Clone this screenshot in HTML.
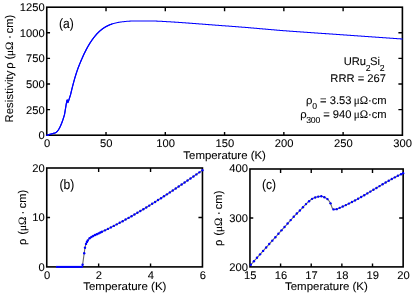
<!DOCTYPE html>
<html><head><meta charset="utf-8"><title>URu2Si2 resistivity</title>
<style>
html,body{margin:0;padding:0;background:#fff;}
svg{display:block;font-family:"Liberation Sans",sans-serif;fill:#000;will-change:transform;}
svg text{text-rendering:geometricPrecision;stroke:#000;stroke-width:0.08px;}
</style></head><body>
<svg width="416" height="295" viewBox="0 0 416 295">
<rect width="416" height="295" fill="#fff"/>
<rect x="46.75" y="7.2" width="355.65" height="128.00" fill="none" stroke="#000" stroke-width="1.6"/>
<text transform="translate(47.05 146.80)" text-anchor="middle" font-size="11.2">0</text>
<path d="M106.02 135.2 v-3.3 M106.02 7.2 v4.0" stroke="#000" stroke-width="1.4"/>
<text transform="translate(106.32 146.80)" text-anchor="middle" font-size="11.2">50</text>
<path d="M165.30 135.2 v-3.3 M165.30 7.2 v4.0" stroke="#000" stroke-width="1.4"/>
<text transform="translate(165.60 146.80)" text-anchor="middle" font-size="11.2">100</text>
<path d="M224.57 135.2 v-3.3 M224.57 7.2 v4.0" stroke="#000" stroke-width="1.4"/>
<text transform="translate(224.88 146.80)" text-anchor="middle" font-size="11.2">150</text>
<path d="M283.85 135.2 v-3.3 M283.85 7.2 v4.0" stroke="#000" stroke-width="1.4"/>
<text transform="translate(284.15 146.80)" text-anchor="middle" font-size="11.2">200</text>
<path d="M343.12 135.2 v-3.3 M343.12 7.2 v4.0" stroke="#000" stroke-width="1.4"/>
<text transform="translate(343.43 146.80)" text-anchor="middle" font-size="11.2">250</text>
<text transform="translate(402.70 146.80)" text-anchor="middle" font-size="11.2">300</text>
<text transform="translate(44.75 139.20)" text-anchor="end" font-size="11.2">0</text>
<path d="M46.75 109.60 h3.3 M402.4 109.60 h-4.0" stroke="#000" stroke-width="1.4"/>
<text transform="translate(44.75 113.60)" text-anchor="end" font-size="11.2">250</text>
<path d="M46.75 84.00 h3.3 M402.4 84.00 h-4.0" stroke="#000" stroke-width="1.4"/>
<text transform="translate(44.75 88.00)" text-anchor="end" font-size="11.2">500</text>
<path d="M46.75 58.40 h3.3 M402.4 58.40 h-4.0" stroke="#000" stroke-width="1.4"/>
<text transform="translate(44.75 62.40)" text-anchor="end" font-size="11.2">750</text>
<path d="M46.75 32.80 h3.3 M402.4 32.80 h-4.0" stroke="#000" stroke-width="1.4"/>
<text transform="translate(44.75 36.80)" text-anchor="end" font-size="11.2">1000</text>
<text transform="translate(44.75 11.20)" text-anchor="end" font-size="11.2">1250</text>
<rect x="46.75" y="168.0" width="155.70" height="98.90" fill="none" stroke="#000" stroke-width="1.6"/>
<text transform="translate(47.05 278.50)" text-anchor="middle" font-size="11.2">0</text>
<path d="M98.65 266.9 v-3.3 M98.65 168.0 v4.0" stroke="#000" stroke-width="1.4"/>
<text transform="translate(98.95 278.50)" text-anchor="middle" font-size="11.2">2</text>
<path d="M150.55 266.9 v-3.3 M150.55 168.0 v4.0" stroke="#000" stroke-width="1.4"/>
<text transform="translate(150.85 278.50)" text-anchor="middle" font-size="11.2">4</text>
<text transform="translate(202.75 278.50)" text-anchor="middle" font-size="11.2">6</text>
<text transform="translate(44.75 270.90)" text-anchor="end" font-size="11.2">0</text>
<path d="M46.75 217.45 h3.3 M202.45 217.45 h-4.0" stroke="#000" stroke-width="1.4"/>
<text transform="translate(44.75 221.45)" text-anchor="end" font-size="11.2">10</text>
<text transform="translate(44.75 172.00)" text-anchor="end" font-size="11.2">20</text>
<rect x="249.95" y="169.0" width="153.20" height="97.90" fill="none" stroke="#000" stroke-width="1.6"/>
<text transform="translate(250.25 278.50)" text-anchor="middle" font-size="11.2">15</text>
<path d="M280.59 266.9 v-3.3 M280.59 169.0 v4.0" stroke="#000" stroke-width="1.4"/>
<text transform="translate(280.89 278.50)" text-anchor="middle" font-size="11.2">16</text>
<path d="M311.23 266.9 v-3.3 M311.23 169.0 v4.0" stroke="#000" stroke-width="1.4"/>
<text transform="translate(311.53 278.50)" text-anchor="middle" font-size="11.2">17</text>
<path d="M341.87 266.9 v-3.3 M341.87 169.0 v4.0" stroke="#000" stroke-width="1.4"/>
<text transform="translate(342.17 278.50)" text-anchor="middle" font-size="11.2">18</text>
<path d="M372.51 266.9 v-3.3 M372.51 169.0 v4.0" stroke="#000" stroke-width="1.4"/>
<text transform="translate(372.81 278.50)" text-anchor="middle" font-size="11.2">19</text>
<text transform="translate(403.45 278.50)" text-anchor="middle" font-size="11.2">20</text>
<text transform="translate(247.95 270.90)" text-anchor="end" font-size="11.2">200</text>
<path d="M249.95 217.95 h3.3 M403.15 217.95 h-4.0" stroke="#000" stroke-width="1.4"/>
<text transform="translate(247.95 221.95)" text-anchor="end" font-size="11.2">300</text>
<text transform="translate(247.95 172.20)" text-anchor="end" font-size="11.2">400</text>
<path d="M46.75 135.20 L47.26 135.20 L47.77 135.20 L48.28 135.20 L48.79 134.58 L49.29 134.47 L49.80 134.35 L50.31 134.23 L50.82 134.10 L51.33 133.96 L51.84 133.82 L52.35 133.67 L52.86 133.51 L53.36 133.35 L53.87 133.20 L54.38 133.15 L54.89 133.02 L55.40 132.81 L55.91 132.51 L56.42 132.12 L56.93 131.65 L57.43 131.10 L57.94 130.46 L58.45 129.73 L58.96 128.92 L59.47 128.02 L59.98 127.04 L60.49 125.98 L61.00 124.82 L61.51 123.59 L62.01 122.26 L62.52 120.86 L63.03 119.36 L63.54 117.78 L64.05 116.12 L64.56 114.32 L65.07 111.22 L65.58 108.15 L66.08 105.08 L66.59 102.18 L67.10 100.11 L67.61 101.05 L68.12 102.10 L68.63 100.72 L69.14 99.14 L69.65 97.50 L70.15 95.94 L70.66 94.23 L71.17 92.06 L71.68 89.95 L72.19 87.89 L72.70 85.88 L73.21 83.92 L73.72 82.02 L74.23 80.17 L74.73 78.38 L75.24 76.65 L75.75 74.98 L76.26 73.38 L76.77 71.83 L77.28 70.35 L77.79 68.92 L78.30 67.55 L78.80 66.22 L79.31 64.93 L79.82 63.67 L80.33 62.44 L80.84 61.23 L81.35 60.03 L81.86 58.85 L82.37 57.69 L82.87 56.55 L83.38 55.43 L83.89 54.34 L84.40 53.26 L84.91 52.21 L85.42 51.19 L85.93 50.20 L86.44 49.23 L86.95 48.29 L87.45 47.36 L87.96 46.45 L88.47 45.57 L88.98 44.70 L89.49 43.86 L90.00 43.04 L90.51 42.24 L91.02 41.46 L91.52 40.71 L92.03 39.99 L92.54 39.28 L93.05 38.58 L93.56 37.91 L94.07 37.25 L94.58 36.61 L95.09 35.98 L95.59 35.38 L96.10 34.79 L96.61 34.22 L97.12 33.66 L97.63 33.13 L98.14 32.61 L98.65 32.11 L99.16 31.63 L99.67 31.17 L100.17 30.72 L100.68 30.29 L101.19 29.87 L101.70 29.47 L102.21 29.08 L102.72 28.70 L103.23 28.34 L103.74 28.00 L104.24 27.66 L104.75 27.34 L105.26 27.03 L105.77 26.74 L106.28 26.46 L106.79 26.18 L107.30 25.92 L107.81 25.67 L108.31 25.43 L108.82 25.21 L109.33 24.99 L109.84 24.78 L110.35 24.58 L110.86 24.39 L111.37 24.20 L111.88 24.03 L112.38 23.87 L112.89 23.71 L113.40 23.56 L113.91 23.42 L114.42 23.28 L114.93 23.15 L115.44 23.02 L115.95 22.90 L116.46 22.79 L116.96 22.68 L117.47 22.58 L117.98 22.48 L118.49 22.39 L119.00 22.30 L119.51 22.21 L120.02 22.13 L120.53 22.06 L121.03 21.98 L121.54 21.92 L122.05 21.85 L122.56 21.79 L123.07 21.73 L123.58 21.68 L124.09 21.62 L124.60 21.57 L125.10 21.51 L125.61 21.46 L126.12 21.40 L126.63 21.35 L127.14 21.31 L127.65 21.26 L128.16 21.23 L128.67 21.20 L129.18 21.17 L129.68 21.14 L130.19 21.11 L130.70 21.08 L131.21 21.06 L131.72 21.03 L132.23 21.01 L132.74 20.99 L133.25 20.98 L133.75 20.96 L134.26 20.95 L134.77 20.95 L135.28 20.95 L135.79 20.95 L136.30 20.95 L136.81 20.95 L137.32 20.95 L137.82 20.95 L138.33 20.95 L138.84 20.95 L139.35 20.95 L139.86 20.95 L140.37 20.95 L140.88 20.95 L141.39 20.95 L141.90 20.95 L142.40 20.95 L142.91 20.95 L143.42 20.95 L143.93 20.95 L144.44 20.95 L144.95 20.95 L145.46 20.95 L145.97 20.95 L146.47 20.95 L146.98 20.95 L147.49 20.95 L148.00 20.95 L148.51 20.95 L149.02 20.95 L149.53 20.96 L150.04 20.96 L150.54 20.97 L151.05 20.98 L151.56 20.99 L152.07 20.99 L152.58 21.00 L153.09 21.01 L153.60 21.02 L154.11 21.03 L154.62 21.05 L155.12 21.06 L155.63 21.08 L156.14 21.09 L156.65 21.11 L157.16 21.13 L157.67 21.15 L158.18 21.17 L158.69 21.19 L159.19 21.22 L159.70 21.24 L160.21 21.26 L160.72 21.28 L161.23 21.31 L161.74 21.34 L162.25 21.37 L162.76 21.41 L163.26 21.44 L163.77 21.47 L164.28 21.51 L164.79 21.54 L165.30 21.57 L165.81 21.60 L166.32 21.63 L166.83 21.65 L167.34 21.68 L167.84 21.71 L168.35 21.74 L168.86 21.77 L169.37 21.80 L169.88 21.82 L170.39 21.85 L170.90 21.88 L171.41 21.91 L171.91 21.94 L172.42 21.98 L172.93 22.01 L173.44 22.04 L173.95 22.07 L174.46 22.11 L174.97 22.14 L175.48 22.17 L175.98 22.21 L176.49 22.24 L177.00 22.27 L177.51 22.31 L178.02 22.34 L178.53 22.38 L179.04 22.41 L179.55 22.45 L180.06 22.48 L180.56 22.52 L181.07 22.56 L181.58 22.59 L182.09 22.63 L182.60 22.66 L183.11 22.70 L183.62 22.74 L184.13 22.77 L184.63 22.81 L185.14 22.85 L185.65 22.88 L186.16 22.92 L186.67 22.96 L187.18 23.00 L187.69 23.03 L188.20 23.07 L188.70 23.11 L189.21 23.14 L189.72 23.18 L190.23 23.22 L190.74 23.25 L191.25 23.29 L191.76 23.33 L192.27 23.37 L192.78 23.40 L193.28 23.44 L193.79 23.48 L194.30 23.52 L194.81 23.55 L195.32 23.59 L195.83 23.63 L196.34 23.67 L196.85 23.71 L197.35 23.75 L197.86 23.78 L198.37 23.82 L198.88 23.86 L199.39 23.90 L199.90 23.94 L200.41 23.98 L200.92 24.02 L201.42 24.06 L201.93 24.10 L202.44 24.13 L202.95 24.17 L203.46 24.21 L203.97 24.25 L204.48 24.29 L204.99 24.33 L205.50 24.37 L206.00 24.41 L206.51 24.45 L207.02 24.49 L207.53 24.53 L208.04 24.57 L208.55 24.61 L209.06 24.64 L209.57 24.68 L210.07 24.72 L210.58 24.76 L211.09 24.80 L211.60 24.84 L212.11 24.88 L212.62 24.92 L213.13 24.96 L213.64 25.00 L214.14 25.03 L214.65 25.07 L215.16 25.11 L215.67 25.15 L216.18 25.19 L216.69 25.23 L217.20 25.27 L217.71 25.30 L218.22 25.34 L218.72 25.38 L219.23 25.42 L219.74 25.46 L220.25 25.50 L220.76 25.53 L221.27 25.57 L221.78 25.61 L222.29 25.65 L222.79 25.69 L223.30 25.72 L223.81 25.76 L224.32 25.80 L224.83 25.84 L225.34 25.88 L225.85 25.91 L226.36 25.95 L226.86 25.99 L227.37 26.03 L227.88 26.07 L228.39 26.10 L228.90 26.14 L229.41 26.18 L229.92 26.22 L230.43 26.26 L230.93 26.29 L231.44 26.33 L231.95 26.37 L232.46 26.41 L232.97 26.45 L233.48 26.49 L233.99 26.52 L234.50 26.56 L235.01 26.60 L235.51 26.64 L236.02 26.68 L236.53 26.72 L237.04 26.76 L237.55 26.80 L238.06 26.83 L238.57 26.87 L239.08 26.91 L239.58 26.95 L240.09 26.99 L240.60 27.03 L241.11 27.07 L241.62 27.11 L242.13 27.15 L242.64 27.19 L243.15 27.23 L243.65 27.27 L244.16 27.31 L244.67 27.35 L245.18 27.39 L245.69 27.44 L246.20 27.48 L246.71 27.52 L247.22 27.56 L247.73 27.60 L248.23 27.64 L248.74 27.69 L249.25 27.73 L249.76 27.77 L250.27 27.82 L250.78 27.86 L251.29 27.90 L251.80 27.94 L252.30 27.99 L252.81 28.03 L253.32 28.07 L253.83 28.12 L254.34 28.16 L254.85 28.21 L255.36 28.25 L255.87 28.29 L256.37 28.34 L256.88 28.38 L257.39 28.43 L257.90 28.47 L258.41 28.52 L258.92 28.56 L259.43 28.61 L259.94 28.65 L260.45 28.69 L260.95 28.74 L261.46 28.78 L261.97 28.83 L262.48 28.87 L262.99 28.92 L263.50 28.96 L264.01 29.01 L264.52 29.05 L265.02 29.10 L265.53 29.14 L266.04 29.19 L266.55 29.23 L267.06 29.28 L267.57 29.32 L268.08 29.36 L268.59 29.41 L269.09 29.45 L269.60 29.50 L270.11 29.54 L270.62 29.59 L271.13 29.63 L271.64 29.67 L272.15 29.72 L272.66 29.76 L273.17 29.81 L273.67 29.85 L274.18 29.89 L274.69 29.94 L275.20 29.98 L275.71 30.02 L276.22 30.07 L276.73 30.11 L277.24 30.15 L277.74 30.19 L278.25 30.24 L278.76 30.28 L279.27 30.32 L279.78 30.36 L280.29 30.40 L280.80 30.44 L281.31 30.48 L281.81 30.53 L282.32 30.57 L282.83 30.61 L283.34 30.65 L283.85 30.69 L284.36 30.73 L284.87 30.77 L285.38 30.81 L285.89 30.84 L286.39 30.88 L286.90 30.92 L287.41 30.96 L287.92 31.00 L288.43 31.04 L288.94 31.08 L289.45 31.11 L289.96 31.15 L290.46 31.19 L290.97 31.23 L291.48 31.27 L291.99 31.30 L292.50 31.34 L293.01 31.38 L293.52 31.42 L294.03 31.45 L294.53 31.49 L295.04 31.53 L295.55 31.56 L296.06 31.60 L296.57 31.64 L297.08 31.67 L297.59 31.71 L298.10 31.75 L298.61 31.78 L299.11 31.82 L299.62 31.85 L300.13 31.89 L300.64 31.93 L301.15 31.96 L301.66 32.00 L302.17 32.03 L302.68 32.07 L303.18 32.10 L303.69 32.14 L304.20 32.17 L304.71 32.21 L305.22 32.25 L305.73 32.28 L306.24 32.32 L306.75 32.35 L307.25 32.39 L307.76 32.42 L308.27 32.46 L308.78 32.49 L309.29 32.53 L309.80 32.56 L310.31 32.60 L310.82 32.63 L311.33 32.67 L311.83 32.70 L312.34 32.74 L312.85 32.77 L313.36 32.81 L313.87 32.84 L314.38 32.87 L314.89 32.91 L315.40 32.94 L315.90 32.98 L316.41 33.01 L316.92 33.05 L317.43 33.08 L317.94 33.12 L318.45 33.15 L318.96 33.19 L319.47 33.22 L319.97 33.26 L320.48 33.29 L320.99 33.33 L321.50 33.36 L322.01 33.40 L322.52 33.43 L323.03 33.47 L323.54 33.50 L324.05 33.54 L324.55 33.57 L325.06 33.61 L325.57 33.64 L326.08 33.68 L326.59 33.71 L327.10 33.75 L327.61 33.78 L328.12 33.82 L328.62 33.85 L329.13 33.89 L329.64 33.92 L330.15 33.96 L330.66 34.00 L331.17 34.03 L331.68 34.07 L332.19 34.10 L332.69 34.14 L333.20 34.17 L333.71 34.21 L334.22 34.25 L334.73 34.28 L335.24 34.32 L335.75 34.35 L336.26 34.39 L336.77 34.42 L337.27 34.46 L337.78 34.50 L338.29 34.53 L338.80 34.57 L339.31 34.60 L339.82 34.64 L340.33 34.67 L340.84 34.71 L341.34 34.75 L341.85 34.78 L342.36 34.82 L342.87 34.85 L343.38 34.89 L343.89 34.92 L344.40 34.96 L344.91 34.99 L345.41 35.03 L345.92 35.07 L346.43 35.10 L346.94 35.14 L347.45 35.17 L347.96 35.21 L348.47 35.24 L348.98 35.28 L349.48 35.31 L349.99 35.35 L350.50 35.39 L351.01 35.42 L351.52 35.46 L352.03 35.49 L352.54 35.53 L353.05 35.56 L353.56 35.60 L354.06 35.64 L354.57 35.67 L355.08 35.71 L355.59 35.74 L356.10 35.78 L356.61 35.81 L357.12 35.85 L357.63 35.88 L358.13 35.92 L358.64 35.95 L359.15 35.99 L359.66 36.03 L360.17 36.06 L360.68 36.10 L361.19 36.13 L361.70 36.17 L362.20 36.20 L362.71 36.24 L363.22 36.27 L363.73 36.31 L364.24 36.35 L364.75 36.38 L365.26 36.42 L365.77 36.45 L366.28 36.49 L366.78 36.52 L367.29 36.56 L367.80 36.59 L368.31 36.63 L368.82 36.67 L369.33 36.70 L369.84 36.74 L370.35 36.77 L370.85 36.81 L371.36 36.84 L371.87 36.88 L372.38 36.91 L372.89 36.95 L373.40 36.98 L373.91 37.02 L374.42 37.06 L374.92 37.09 L375.43 37.13 L375.94 37.16 L376.45 37.20 L376.96 37.23 L377.47 37.27 L377.98 37.30 L378.49 37.34 L379.00 37.37 L379.50 37.41 L380.01 37.45 L380.52 37.48 L381.03 37.52 L381.54 37.55 L382.05 37.59 L382.56 37.62 L383.07 37.66 L383.57 37.69 L384.08 37.73 L384.59 37.76 L385.10 37.80 L385.61 37.83 L386.12 37.87 L386.63 37.91 L387.14 37.94 L387.64 37.98 L388.15 38.01 L388.66 38.05 L389.17 38.08 L389.68 38.12 L390.19 38.15 L390.70 38.19 L391.21 38.22 L391.72 38.26 L392.22 38.29 L392.73 38.33 L393.24 38.36 L393.75 38.40 L394.26 38.44 L394.77 38.47 L395.28 38.51 L395.79 38.54 L396.29 38.58 L396.80 38.61 L397.31 38.65 L397.82 38.68 L398.33 38.72 L398.84 38.75 L399.35 38.79 L399.86 38.82 L400.36 38.86 L400.87 38.89 L401.38 38.93 L401.89 38.96 L402.40 39.00" fill="none" stroke="#0000ff" stroke-width="1.05" stroke-linejoin="round" stroke-linecap="round"/>
<path d="M46.75 135.20 L46.88 135.20 L47.01 135.20 L47.14 135.20 L47.27 135.20 L47.40 135.20 L47.53 135.20 L47.67 135.20 L47.80 135.20 L47.93 135.20 L48.06 135.20 L48.19 135.20 L48.32 135.20 L48.45 134.95 L48.58 134.69 L48.71 134.61 L48.84 134.57 L48.97 134.54 L49.10 134.51 L49.23 134.48 L49.37 134.45 L49.50 134.42 L49.63 134.39 L49.76 134.36 L49.89 134.33 L50.02 134.30 L50.15 134.27 L50.28 134.24 L50.41 134.20 L50.54 134.17 L50.67 134.14 L50.80 134.10 L50.93 134.07 L51.07 134.03 L51.20 134.00 L51.33 133.96 L51.46 133.92 L51.59 133.89 L51.72 133.85 L51.85 133.81 L51.98 133.77 L52.11 133.74 L52.24 133.70 L52.37 133.66 L52.50 133.62 L52.63 133.58 L52.77 133.54 L52.90 133.50 L53.03 133.46 L53.16 133.42 L53.29 133.38 L53.42 133.34 L53.55 133.30 L53.68 133.26 L53.81 133.21 L53.94 133.20 L54.07 133.19 L54.20 133.18 L54.33 133.16 L54.46 133.14 L54.60 133.11 L54.73 133.07 L54.86 133.03 L54.99 132.99 L55.12 132.94 L55.25 132.88 L55.38 132.82 L55.51 132.75 L55.64 132.68 L55.77 132.60 L55.90 132.51 L56.03 132.42 L56.16 132.33 L56.30 132.22 L56.43 132.12 L56.56 132.00 L56.69 131.88 L56.82 131.76 L56.95 131.63 L57.08 131.49 L57.21 131.35 L57.34 131.21 L57.47 131.05 L57.60 130.90 L57.73 130.73 L57.86 130.56 L58.00 130.39 L58.13 130.21 L58.26 130.02 L58.39 129.83 L58.52 129.63 L58.65 129.43 L58.78 129.22 L58.91 129.00 L59.04 128.78 L59.17 128.56 L59.30 128.33 L59.43 128.09 L59.56 127.85 L59.70 127.60 L59.83 127.35 L59.96 127.09 L60.09 126.82 L60.22 126.55 L60.35 126.27 L60.48 125.99 L60.61 125.70 L60.74 125.41 L60.87 125.11 L61.00 124.81 L61.13 124.50 L61.26 124.18 L61.40 123.86 L61.53 123.53 L61.66 123.20 L61.79 122.86 L61.92 122.52 L62.05 122.17 L62.18 121.81 L62.31 121.45 L62.44 121.09 L62.57 120.71 L62.70 120.34 L62.83 119.95 L62.96 119.56 L63.10 119.17 L63.23 118.77 L63.36 118.36 L63.49 117.95 L63.62 117.54 L63.75 117.11 L63.88 116.68 L64.01 116.25 L64.14 115.81 L64.27 115.37 L64.40 114.92 L64.53 114.46 L64.66 113.67 L64.80 112.87 L64.93 112.08 L65.06 111.29 L65.19 110.49 L65.32 109.70 L65.45 108.91 L65.58 108.12 L65.71 107.33 L65.84 106.55 L65.97 105.76 L66.10 104.97 L66.23 104.19 L66.36 103.45 L66.49 102.75 L66.63 102.00 L66.76 101.30 L66.89 100.68 L67.02 100.27 L67.15 100.05 L67.28 99.95 L67.41 100.15 L67.54 100.59 L67.67 101.74 L67.80 102.69 L67.93 102.54 L68.06 102.23 L68.19 101.91 L68.33 101.58 L68.46 101.22 L68.59 100.84 L68.72 100.46 L68.85 100.05 L68.98 99.64 L69.11 99.23 L69.24 98.81 L69.37 98.38 L69.50 97.96 L69.63 97.54 L69.76 97.12 L69.89 96.72 L70.03 96.32 L70.16 95.93 L70.29 95.57 L70.42 95.22 L70.55 94.72 L70.68 94.16 L70.81 93.60 L70.94 93.04 L71.07 92.49 L71.20 91.94 L71.33 91.39 L71.46 90.85 L71.59 90.31 L71.73 89.77 L71.86 89.23 L71.99 88.70 L72.12 88.18 L72.25 87.65 L72.38 87.13 L72.51 86.62 L72.64 86.10 L72.77 85.59 L72.90 85.09 L73.03 84.58 L73.16 84.08 L73.29 83.59 L73.43 83.10 L73.56 82.61 L73.69 82.12 L73.82 81.64 L73.95 81.17 L74.08 80.69 L74.21 80.22 L74.34 79.76 L74.47 79.30 L74.60 78.84 L74.73 78.38 L74.86 77.93 L74.99 77.49 L75.13 77.05 L75.26 76.61 L75.39 76.17 L75.52 75.74 L75.65 75.32 L75.78 74.89 L75.91 74.48 L76.04 74.06 L76.17 73.65 L76.30 73.25 L76.43 72.84 L76.56 72.45 L76.69 72.05 L76.83 71.67 L76.96 71.28 L77.09 70.90 L77.22 70.52 L77.35 70.15 L77.48 69.78 L77.61 69.41 L77.74 69.05 L77.87 68.69 L78.00 68.34 L78.13 67.98 L78.26 67.63 L78.39 67.29 L78.53 66.94 L78.66 66.60 L78.79 66.26 L78.92 65.93 L79.05 65.59 L79.18 65.26 L79.31 64.93 L79.44 64.61 L79.57 64.28 L79.70 63.96 L79.83 63.64 L79.96 63.32 L80.09 63.01 L80.22 62.69 L80.36 62.38 L80.49 62.06 L80.62 61.75 L80.75 61.44 L80.88 61.13 L81.01 60.83 L81.14 60.52 L81.27 60.21 L81.40 59.91 L81.53 59.60 L81.66 59.30 L81.79 59.00 L81.92 58.70 L82.06 58.40 L82.19 58.10 L82.32 57.80 L82.45 57.51 L82.58 57.21 L82.71 56.92 L82.84 56.63 L82.97 56.34 L83.10 56.05 L83.23 55.76 L83.36 55.48 L83.49 55.19 L83.62 54.91 L83.76 54.63 L83.89 54.35 L84.02 54.07 L84.15 53.79 L84.28 53.52 L84.41 53.25 L84.54 52.97 L84.67 52.70 L84.80 52.44 L84.93 52.17 L85.06 51.90 L85.19 51.64 L85.32 51.38 L85.46 51.12 L85.59 50.86 L85.72 50.61 L85.85 50.35 L85.98 50.10 L86.11 49.85 L86.24 49.60 L86.37 49.35 L86.50 49.11 L86.63 48.86 L86.76 48.62 L86.89 48.38 L87.02 48.14 L87.16 47.90 L87.29 47.66 L87.42 47.43 L87.55 47.19 L87.68 46.96 L87.81 46.73 L87.94 46.49 L88.07 46.26 L88.20 46.04 L88.33 45.81 L88.46 45.58 L88.59 45.36 L88.72 45.14 L88.86 44.91 L88.99 44.69 L89.12 44.47 L89.25 44.26 L89.38 44.04 L89.51 43.83 L89.64 43.61 L89.77 43.40 L89.90 43.19 L90.03 42.98 L90.16 42.78 L90.29 42.57 L90.42 42.37 L90.56 42.16 L90.69 41.96 L90.82 41.76 L90.95 41.57 L91.08 41.37 L91.21 41.18 L91.34 40.98 L91.47 40.79 L91.60 40.60 L91.73 40.42 L91.86 40.23 L91.99 40.04 L92.12 39.86 L92.26 39.67 L92.39 39.49 L92.52 39.31 L92.65 39.13 L92.78 38.95 L92.91 38.77 L93.04 38.60 L93.17 38.42 L93.30 38.25 L93.43 38.07 L93.56 37.90 L93.69 37.73 L93.82 37.56 L93.95 37.39 L94.09 37.23 L94.22 37.06 L94.35 36.90 L94.48 36.73 L94.61 36.57 L94.74 36.41 L94.87 36.25 L95.00 36.09 L95.13 35.93 L95.26 35.77 L95.39 35.62 L95.52 35.46 L95.65 35.31 L95.79 35.15 L95.92 35.00 L96.05 34.85 L96.18 34.70 L96.31 34.55 L96.44 34.41 L96.57 34.26 L96.70 34.12 L96.83 33.97 L96.96 33.83 L97.09 33.69 L97.22 33.55 L97.35 33.41 L97.49 33.28 L97.62 33.14 L97.75 33.01 L97.88 32.87 L98.01 32.74 L98.14 32.61 L98.27 32.48 L98.40 32.35 L98.53 32.22 L98.66 32.10 L98.79 31.97 L98.92 31.85 L99.05 31.73 L99.19 31.61 L99.32 31.49 L99.45 31.37 L99.58 31.25 L99.71 31.13 L99.84 31.02 L99.97 30.90 L100.10 30.79 L100.23 30.67 L100.36 30.56 L100.49 30.45 L100.62 30.34 L100.75 30.23 L100.89 30.12 L101.02 30.01 L101.15 29.91 L101.28 29.80 L101.41 29.70 L101.54 29.59 L101.67 29.49 L101.80 29.39 L101.93 29.29 L102.06 29.19 L102.19 29.09 L102.32 28.99 L102.45 28.89 L102.59 28.80 L102.72 28.70 L102.85 28.61 L102.98 28.52 L103.11 28.43 L103.24 28.34 L103.37 28.25 L103.50 28.16 L103.63 28.07 L103.76 27.98 L103.89 27.89 L104.02 27.81 L104.15 27.72 L104.29 27.64 L104.42 27.55 L104.55 27.47 L104.68 27.39 L104.81 27.31 L104.94 27.23 L105.07 27.15 L105.20 27.07 L105.33 26.99 L105.46 26.92 L105.59 26.84 L105.72 26.77 L105.85 26.69 L105.98 26.62 L106.12 26.55 L106.25 26.47 L106.38 26.40 L106.51 26.33 L106.64 26.26 L106.77 26.19 L106.90 26.13 L107.03 26.06 L107.16 25.99 L107.29 25.92 L107.42 25.86 L107.55 25.79 L107.68 25.73 L107.82 25.67 L107.95 25.60 L108.08 25.54 L108.21 25.48 L108.34 25.42 L108.47 25.36 L108.60 25.30 L108.73 25.25 L108.86 25.19 L108.99 25.13 L109.12 25.08 L109.25 25.02 L109.38 24.97 L109.52 24.91 L109.65 24.86 L109.78 24.81 L109.91 24.76 L110.04 24.70 L110.17 24.65 L110.30 24.60 L110.43 24.55 L110.56 24.50 L110.69 24.45 L110.82 24.40 L110.95 24.35 L111.08 24.31 L111.22 24.26 L111.35 24.21 L111.48 24.17 L111.61 24.12 L111.74 24.08 L111.87 24.03 L112.00 23.99" fill="none" stroke="#0000ff" stroke-width="1.2" stroke-linejoin="round" stroke-linecap="round"/>
<path d="M55.80 266.90 L56.09 266.90 L56.39 266.90 L56.68 266.90 L56.98 266.90 L57.27 266.90 L57.56 266.90 L57.86 266.90 L58.15 266.90 L58.44 266.90 L58.74 266.90 L59.03 266.90 L59.33 266.90 L59.62 266.90 L59.91 266.90 L60.21 266.90 L60.50 266.90 L60.80 266.90 L61.09 266.90 L61.38 266.90 L61.68 266.90 L61.97 266.90 L62.27 266.90 L62.56 266.90 L62.85 266.90 L63.15 266.90 L63.44 266.90 L63.73 266.90 L64.03 266.90 L64.32 266.90 L64.62 266.90 L64.91 266.90 L65.20 266.90 L65.50 266.90 L65.79 266.90 L66.09 266.90 L66.38 266.90 L66.67 266.90 L66.97 266.90 L67.26 266.90 L67.56 266.90 L67.85 266.90 L68.14 266.90 L68.44 266.90 L68.73 266.90 L69.02 266.90 L69.32 266.90 L69.61 266.90 L69.91 266.90 L70.20 266.90 L70.49 266.90 L70.79 266.90 L71.08 266.90 L71.38 266.90 L71.67 266.90 L71.96 266.90 L72.26 266.90 L72.55 266.90 L72.85 266.90 L73.14 266.90 L73.43 266.90 L73.73 266.90 L74.02 266.90 L74.31 266.90 L74.61 266.90 L74.90 266.90 L75.20 266.90 L75.49 266.90 L75.78 266.90 L76.08 266.90 L76.37 266.90 L76.67 266.90 L76.96 266.90 L77.25 266.90 L77.55 266.90 L77.84 266.90 L78.14 266.90 L78.43 266.90 L78.72 266.90 L79.02 266.90 L79.31 266.90 L79.60 266.90 L79.90 266.90 L80.19 266.90 L80.49 266.90 L80.78 266.90 L81.07 266.90 L81.37 266.90 L81.66 266.90 L81.96 266.90 L82.25 266.90 L82.54 265.20 L82.84 263.11 L83.13 260.99 L83.43 258.87 L83.72 256.74 L84.01 254.63 L84.31 252.52 L84.60 250.28 L84.89 248.27 L85.19 246.80 L85.48 245.57 L85.78 244.54 L86.07 243.72 L86.36 243.02 L86.66 242.41 L86.95 241.86 L87.25 241.36 L87.54 240.89 L87.83 240.45 L88.13 240.02 L88.42 239.62 L88.72 239.24 L89.01 238.90 L89.30 238.59 L89.60 238.32 L89.89 238.07 L90.18 237.84 L90.48 237.62 L90.77 237.42 L91.07 237.22 L91.36 237.03 L91.65 236.85 L91.95 236.67 L92.24 236.49 L92.54 236.32 L92.83 236.16 L93.12 236.00 L93.42 235.84 L93.71 235.69 L94.01 235.54 L94.30 235.40 L94.59 235.25 L94.89 235.11 L95.18 234.96 L95.47 234.82 L95.77 234.68 L96.06 234.54 L96.36 234.41 L96.65 234.27 L96.94 234.14 L97.24 234.01 L97.53 233.88 L97.83 233.74 L98.12 233.61 L98.41 233.48 L98.71 233.34 L99.00 233.21 L99.30 233.07 L99.59 232.93 L99.88 232.80 L100.18 232.66 L100.47 232.52 L100.76 232.38 L101.06 232.24 L101.35 232.10 L101.65 231.96 L101.94 231.82 L102.23 231.68 L102.53 231.54 L102.82 231.40 L103.12 231.26 L103.41 231.12 L103.70 230.97 L104.00 230.83 L104.29 230.69 L104.59 230.55 L104.88 230.40 L105.17 230.26 L105.47 230.11 L105.76 229.97 L106.05 229.82 L106.35 229.68 L106.64 229.53 L106.94 229.39 L107.23 229.24 L107.52 229.10 L107.82 228.95 L108.11 228.80 L108.41 228.66 L108.70 228.51 L108.99 228.36 L109.29 228.21 L109.58 228.07 L109.88 227.92 L110.17 227.77 L110.46 227.62 L110.76 227.47 L111.05 227.32 L111.34 227.17 L111.64 227.02 L111.93 226.87 L112.23 226.72 L112.52 226.57 L112.81 226.42 L113.11 226.26 L113.40 226.11 L113.70 225.96 L113.99 225.81 L114.28 225.65 L114.58 225.50 L114.87 225.35 L115.17 225.19 L115.46 225.04 L115.75 224.89 L116.05 224.73 L116.34 224.58 L116.63 224.42 L116.93 224.27 L117.22 224.11 L117.52 223.95 L117.81 223.80 L118.10 223.64 L118.40 223.48 L118.69 223.33 L118.99 223.17 L119.28 223.01 L119.57 222.85 L119.87 222.70 L120.16 222.54 L120.46 222.38 L120.75 222.22 L121.04 222.06 L121.34 221.90 L121.63 221.74 L121.92 221.58 L122.22 221.42 L122.51 221.26 L122.81 221.10 L123.10 220.94 L123.39 220.78 L123.69 220.61 L123.98 220.45 L124.28 220.29 L124.57 220.13 L124.86 219.96 L125.16 219.80 L125.45 219.64 L125.75 219.47 L126.04 219.31 L126.33 219.15 L126.63 218.98 L126.92 218.82 L127.21 218.65 L127.51 218.49 L127.80 218.32 L128.10 218.16 L128.39 217.99 L128.68 217.82 L128.98 217.66 L129.27 217.49 L129.57 217.32 L129.86 217.15 L130.15 216.99 L130.45 216.82 L130.74 216.65 L131.04 216.48 L131.33 216.31 L131.62 216.14 L131.92 215.97 L132.21 215.80 L132.50 215.63 L132.80 215.46 L133.09 215.29 L133.39 215.12 L133.68 214.95 L133.97 214.78 L134.27 214.61 L134.56 214.44 L134.86 214.27 L135.15 214.09 L135.44 213.92 L135.74 213.75 L136.03 213.58 L136.33 213.41 L136.62 213.23 L136.91 213.06 L137.21 212.89 L137.50 212.71 L137.79 212.54 L138.09 212.37 L138.38 212.19 L138.68 212.02 L138.97 211.84 L139.26 211.67 L139.56 211.49 L139.85 211.32 L140.15 211.14 L140.44 210.97 L140.73 210.79 L141.03 210.61 L141.32 210.44 L141.62 210.26 L141.91 210.08 L142.20 209.91 L142.50 209.73 L142.79 209.55 L143.08 209.37 L143.38 209.20 L143.67 209.02 L143.97 208.84 L144.26 208.66 L144.55 208.48 L144.85 208.30 L145.14 208.12 L145.44 207.95 L145.73 207.77 L146.02 207.59 L146.32 207.41 L146.61 207.23 L146.91 207.05 L147.20 206.87 L147.49 206.68 L147.79 206.50 L148.08 206.32 L148.37 206.14 L148.67 205.96 L148.96 205.78 L149.26 205.60 L149.55 205.42 L149.84 205.23 L150.14 205.05 L150.43 204.87 L150.73 204.69 L151.02 204.50 L151.31 204.32 L151.61 204.14 L151.90 203.95 L152.20 203.77 L152.49 203.59 L152.78 203.40 L153.08 203.22 L153.37 203.03 L153.66 202.85 L153.96 202.67 L154.25 202.48 L154.55 202.29 L154.84 202.11 L155.13 201.92 L155.43 201.74 L155.72 201.55 L156.02 201.37 L156.31 201.18 L156.60 200.99 L156.90 200.80 L157.19 200.62 L157.49 200.43 L157.78 200.24 L158.07 200.06 L158.37 199.87 L158.66 199.68 L158.95 199.49 L159.25 199.30 L159.54 199.11 L159.84 198.93 L160.13 198.74 L160.42 198.55 L160.72 198.36 L161.01 198.17 L161.31 197.98 L161.60 197.79 L161.89 197.60 L162.19 197.41 L162.48 197.22 L162.78 197.03 L163.07 196.84 L163.36 196.65 L163.66 196.46 L163.95 196.27 L164.24 196.08 L164.54 195.89 L164.83 195.69 L165.13 195.50 L165.42 195.31 L165.71 195.12 L166.01 194.93 L166.30 194.74 L166.60 194.54 L166.89 194.35 L167.18 194.16 L167.48 193.97 L167.77 193.77 L168.07 193.58 L168.36 193.39 L168.65 193.20 L168.95 193.00 L169.24 192.81 L169.53 192.62 L169.83 192.42 L170.12 192.23 L170.42 192.03 L170.71 191.84 L171.00 191.65 L171.30 191.45 L171.59 191.26 L171.89 191.06 L172.18 190.87 L172.47 190.67 L172.77 190.48 L173.06 190.28 L173.36 190.09 L173.65 189.89 L173.94 189.70 L174.24 189.50 L174.53 189.30 L174.82 189.11 L175.12 188.91 L175.41 188.71 L175.71 188.52 L176.00 188.32 L176.29 188.12 L176.59 187.93 L176.88 187.73 L177.18 187.53 L177.47 187.33 L177.76 187.14 L178.06 186.94 L178.35 186.74 L178.65 186.54 L178.94 186.35 L179.23 186.15 L179.53 185.95 L179.82 185.75 L180.11 185.55 L180.41 185.36 L180.70 185.16 L181.00 184.96 L181.29 184.76 L181.58 184.56 L181.88 184.36 L182.17 184.16 L182.47 183.97 L182.76 183.77 L183.05 183.57 L183.35 183.37 L183.64 183.17 L183.94 182.97 L184.23 182.77 L184.52 182.57 L184.82 182.37 L185.11 182.17 L185.40 181.97 L185.70 181.77 L185.99 181.57 L186.29 181.37 L186.58 181.17 L186.87 180.97 L187.17 180.77 L187.46 180.57 L187.76 180.37 L188.05 180.17 L188.34 179.97 L188.64 179.77 L188.93 179.56 L189.23 179.36 L189.52 179.16 L189.81 178.96 L190.11 178.76 L190.40 178.56 L190.69 178.35 L190.99 178.15 L191.28 177.95 L191.58 177.75 L191.87 177.55 L192.16 177.34 L192.46 177.14 L192.75 176.94 L193.05 176.74 L193.34 176.53 L193.63 176.33 L193.93 176.13 L194.22 175.93 L194.52 175.72 L194.81 175.52 L195.10 175.32 L195.40 175.11 L195.69 174.91 L195.98 174.71 L196.28 174.50 L196.57 174.30 L196.87 174.09 L197.16 173.89 L197.45 173.69 L197.75 173.48 L198.04 173.28 L198.34 173.07 L198.63 172.87 L198.92 172.66 L199.22 172.46 L199.51 172.25 L199.81 172.05 L200.10 171.84 L200.39 171.64 L200.69 171.43 L200.98 171.23 L201.27 171.02 L201.57 170.82 L201.86 170.61 L202.16 170.41 L202.45 170.20" fill="none" stroke="#666666" stroke-width="1.1"/>
<path d="M56.0 266.9 H82.8" stroke="#0000ff" stroke-width="2.0"/>
<circle cx="82.60" cy="264.80" r="1.2" fill="#0000ff"/>
<circle cx="84.20" cy="253.30" r="1.2" fill="#0000ff"/>
<circle cx="85.00" cy="247.70" r="1.2" fill="#0000ff"/>
<circle cx="86.00" cy="243.90" r="1.2" fill="#0000ff"/>
<circle cx="86.90" cy="242.00" r="1.2" fill="#0000ff"/>
<circle cx="87.80" cy="240.50" r="1.2" fill="#0000ff"/>
<circle cx="89.60" cy="238.32" r="1.2" fill="#0000ff"/>
<circle cx="91.40" cy="237.01" r="1.2" fill="#0000ff"/>
<circle cx="93.20" cy="235.96" r="1.2" fill="#0000ff"/>
<circle cx="95.00" cy="235.05" r="1.2" fill="#0000ff"/>
<circle cx="96.80" cy="234.20" r="1.2" fill="#0000ff"/>
<circle cx="98.60" cy="233.39" r="1.2" fill="#0000ff"/>
<circle cx="100.40" cy="232.56" r="1.2" fill="#0000ff"/>
<circle cx="102.00" cy="231.80" r="1.2" fill="#0000ff"/>
<circle cx="104.95" cy="230.37" r="1.2" fill="#0000ff"/>
<circle cx="107.90" cy="228.91" r="1.2" fill="#0000ff"/>
<circle cx="110.85" cy="227.42" r="1.2" fill="#0000ff"/>
<circle cx="113.80" cy="225.90" r="1.2" fill="#0000ff"/>
<circle cx="116.75" cy="224.36" r="1.2" fill="#0000ff"/>
<circle cx="119.70" cy="222.79" r="1.2" fill="#0000ff"/>
<circle cx="122.65" cy="221.18" r="1.2" fill="#0000ff"/>
<circle cx="125.60" cy="219.56" r="1.2" fill="#0000ff"/>
<circle cx="128.55" cy="217.90" r="1.2" fill="#0000ff"/>
<circle cx="131.50" cy="216.21" r="1.2" fill="#0000ff"/>
<circle cx="134.45" cy="214.50" r="1.2" fill="#0000ff"/>
<circle cx="137.40" cy="212.77" r="1.2" fill="#0000ff"/>
<circle cx="140.35" cy="211.02" r="1.2" fill="#0000ff"/>
<circle cx="143.30" cy="209.24" r="1.2" fill="#0000ff"/>
<circle cx="146.25" cy="207.45" r="1.2" fill="#0000ff"/>
<circle cx="149.20" cy="205.63" r="1.2" fill="#0000ff"/>
<circle cx="152.15" cy="203.80" r="1.2" fill="#0000ff"/>
<circle cx="155.10" cy="201.95" r="1.2" fill="#0000ff"/>
<circle cx="158.05" cy="200.07" r="1.2" fill="#0000ff"/>
<circle cx="161.00" cy="198.18" r="1.2" fill="#0000ff"/>
<circle cx="163.95" cy="196.27" r="1.2" fill="#0000ff"/>
<circle cx="166.90" cy="194.34" r="1.2" fill="#0000ff"/>
<circle cx="169.85" cy="192.41" r="1.2" fill="#0000ff"/>
<circle cx="172.80" cy="190.46" r="1.2" fill="#0000ff"/>
<circle cx="175.75" cy="188.49" r="1.2" fill="#0000ff"/>
<circle cx="178.70" cy="186.51" r="1.2" fill="#0000ff"/>
<circle cx="181.65" cy="184.52" r="1.2" fill="#0000ff"/>
<circle cx="184.60" cy="182.52" r="1.2" fill="#0000ff"/>
<circle cx="187.55" cy="180.51" r="1.2" fill="#0000ff"/>
<circle cx="190.50" cy="178.49" r="1.2" fill="#0000ff"/>
<circle cx="193.45" cy="176.46" r="1.2" fill="#0000ff"/>
<circle cx="196.40" cy="174.42" r="1.2" fill="#0000ff"/>
<circle cx="199.35" cy="172.37" r="1.2" fill="#0000ff"/>
<circle cx="202.45" cy="170.20" r="1.2" fill="#0000ff"/>
<path d="M250.00 265.67 L250.26 265.38 L250.51 265.09 L250.77 264.80 L251.02 264.52 L251.28 264.23 L251.53 263.94 L251.79 263.65 L252.05 263.36 L252.30 263.07 L252.56 262.79 L252.81 262.50 L253.07 262.21 L253.32 261.92 L253.58 261.63 L253.84 261.35 L254.09 261.06 L254.35 260.77 L254.60 260.48 L254.86 260.19 L255.11 259.91 L255.37 259.62 L255.62 259.33 L255.88 259.04 L256.14 258.75 L256.39 258.47 L256.65 258.18 L256.90 257.89 L257.16 257.60 L257.41 257.32 L257.67 257.03 L257.93 256.74 L258.18 256.45 L258.44 256.17 L258.69 255.88 L258.95 255.59 L259.20 255.30 L259.46 255.02 L259.72 254.73 L259.97 254.44 L260.23 254.15 L260.48 253.87 L260.74 253.58 L260.99 253.29 L261.25 253.01 L261.51 252.72 L261.76 252.43 L262.02 252.14 L262.27 251.86 L262.53 251.57 L262.78 251.28 L263.04 251.00 L263.30 250.71 L263.55 250.42 L263.81 250.14 L264.06 249.85 L264.32 249.56 L264.57 249.28 L264.83 248.99 L265.08 248.70 L265.34 248.42 L265.60 248.13 L265.85 247.84 L266.11 247.56 L266.36 247.27 L266.62 246.98 L266.87 246.70 L267.13 246.41 L267.39 246.12 L267.64 245.84 L267.90 245.55 L268.15 245.26 L268.41 244.98 L268.66 244.69 L268.92 244.40 L269.18 244.12 L269.43 243.83 L269.69 243.54 L269.94 243.26 L270.20 242.97 L270.45 242.69 L270.71 242.40 L270.97 242.11 L271.22 241.83 L271.48 241.54 L271.73 241.26 L271.99 240.97 L272.24 240.69 L272.50 240.40 L272.76 240.12 L273.01 239.83 L273.27 239.54 L273.52 239.26 L273.78 238.97 L274.03 238.69 L274.29 238.40 L274.54 238.12 L274.80 237.83 L275.06 237.55 L275.31 237.26 L275.57 236.97 L275.82 236.69 L276.08 236.40 L276.33 236.12 L276.59 235.83 L276.85 235.55 L277.10 235.26 L277.36 234.98 L277.61 234.69 L277.87 234.41 L278.12 234.12 L278.38 233.83 L278.64 233.55 L278.89 233.26 L279.15 232.98 L279.40 232.69 L279.66 232.41 L279.91 232.12 L280.17 231.84 L280.43 231.55 L280.68 231.27 L280.94 230.98 L281.19 230.70 L281.45 230.41 L281.70 230.13 L281.96 229.84 L282.22 229.56 L282.47 229.27 L282.73 228.99 L282.98 228.71 L283.24 228.42 L283.49 228.14 L283.75 227.85 L284.00 227.57 L284.26 227.28 L284.52 227.00 L284.77 226.71 L285.03 226.43 L285.28 226.15 L285.54 225.86 L285.79 225.58 L286.05 225.29 L286.31 225.01 L286.56 224.72 L286.82 224.44 L287.07 224.15 L287.33 223.87 L287.58 223.59 L287.84 223.30 L288.10 223.02 L288.35 222.73 L288.61 222.44 L288.86 222.16 L289.12 221.87 L289.37 221.59 L289.63 221.30 L289.89 221.01 L290.14 220.73 L290.40 220.44 L290.65 220.16 L290.91 219.87 L291.16 219.58 L291.42 219.30 L291.68 219.02 L291.93 218.73 L292.19 218.45 L292.44 218.17 L292.70 217.89 L292.95 217.60 L293.21 217.32 L293.46 217.05 L293.72 216.77 L293.98 216.49 L294.23 216.21 L294.49 215.93 L294.74 215.66 L295.00 215.38 L295.25 215.11 L295.51 214.83 L295.77 214.56 L296.02 214.30 L296.28 214.03 L296.53 213.77 L296.79 213.51 L297.04 213.26 L297.30 213.01 L297.56 212.76 L297.81 212.52 L298.07 212.28 L298.32 212.03 L298.58 211.79 L298.83 211.55 L299.09 211.30 L299.35 211.05 L299.60 210.80 L299.86 210.54 L300.11 210.28 L300.37 210.01 L300.62 209.74 L300.88 209.47 L301.14 209.20 L301.39 208.92 L301.65 208.64 L301.90 208.37 L302.16 208.09 L302.41 207.82 L302.67 207.54 L302.92 207.27 L303.18 207.01 L303.44 206.74 L303.69 206.47 L303.95 206.20 L304.20 205.93 L304.46 205.66 L304.71 205.40 L304.97 205.13 L305.23 204.87 L305.48 204.62 L305.74 204.36 L305.99 204.11 L306.25 203.86 L306.50 203.61 L306.76 203.37 L307.02 203.12 L307.27 202.88 L307.53 202.64 L307.78 202.41 L308.04 202.18 L308.29 201.95 L308.55 201.72 L308.81 201.50 L309.06 201.27 L309.32 201.05 L309.57 200.82 L309.83 200.60 L310.08 200.38 L310.34 200.16 L310.60 199.95 L310.85 199.74 L311.11 199.54 L311.36 199.36 L311.62 199.18 L311.87 199.02 L312.13 198.86 L312.38 198.71 L312.64 198.57 L312.90 198.43 L313.15 198.30 L313.41 198.17 L313.66 198.05 L313.92 197.93 L314.17 197.82 L314.43 197.71 L314.69 197.61 L314.94 197.52 L315.20 197.43 L315.45 197.35 L315.71 197.27 L315.96 197.19 L316.22 197.11 L316.48 197.04 L316.73 196.97 L316.99 196.90 L317.24 196.84 L317.50 196.78 L317.75 196.73 L318.01 196.68 L318.27 196.64 L318.52 196.60 L318.78 196.55 L319.03 196.51 L319.29 196.47 L319.54 196.43 L319.80 196.39 L320.06 196.36 L320.31 196.34 L320.57 196.32 L320.82 196.31 L321.08 196.30 L321.33 196.31 L321.59 196.34 L321.84 196.38 L322.10 196.44 L322.36 196.51 L322.61 196.59 L322.87 196.68 L323.12 196.77 L323.38 196.87 L323.63 196.97 L323.89 197.08 L324.15 197.18 L324.40 197.28 L324.66 197.39 L324.91 197.50 L325.17 197.63 L325.42 197.76 L325.68 197.90 L325.94 198.05 L326.19 198.21 L326.45 198.37 L326.70 198.55 L326.96 198.74 L327.21 198.93 L327.47 199.14 L327.73 199.37 L327.98 199.62 L328.24 199.90 L328.49 200.19 L328.75 200.51 L329.00 200.84 L329.26 201.20 L329.52 201.57 L329.77 201.97 L330.03 202.38 L330.28 202.84 L330.54 203.40 L330.79 204.05 L331.05 204.75 L331.31 205.48 L331.56 206.22 L331.82 206.92 L332.07 207.57 L332.33 208.13 L332.58 208.58 L332.84 208.97 L333.09 209.30 L333.35 209.40 L333.61 209.40 L333.86 209.39 L334.12 209.39 L334.37 209.38 L334.63 209.36 L334.88 209.35 L335.14 209.33 L335.40 209.32 L335.65 209.30 L335.91 209.28 L336.16 209.25 L336.42 209.21 L336.67 209.15 L336.93 209.07 L337.19 208.98 L337.44 208.87 L337.70 208.75 L337.95 208.63 L338.21 208.50 L338.46 208.38 L338.72 208.25 L338.98 208.14 L339.23 208.03 L339.49 207.92 L339.74 207.82 L340.00 207.71 L340.25 207.60 L340.51 207.50 L340.77 207.39 L341.02 207.28 L341.28 207.17 L341.53 207.06 L341.79 206.95 L342.04 206.84 L342.30 206.72 L342.55 206.61 L342.81 206.50 L343.07 206.38 L343.32 206.27 L343.58 206.15 L343.83 206.04 L344.09 205.92 L344.34 205.80 L344.60 205.68 L344.86 205.56 L345.11 205.44 L345.37 205.33 L345.62 205.21 L345.88 205.08 L346.13 204.96 L346.39 204.84 L346.65 204.72 L346.90 204.60 L347.16 204.47 L347.41 204.35 L347.67 204.22 L347.92 204.10 L348.18 203.97 L348.44 203.84 L348.69 203.72 L348.95 203.59 L349.20 203.46 L349.46 203.33 L349.71 203.20 L349.97 203.07 L350.23 202.94 L350.48 202.81 L350.74 202.68 L350.99 202.55 L351.25 202.41 L351.50 202.28 L351.76 202.15 L352.01 202.02 L352.27 201.88 L352.53 201.75 L352.78 201.61 L353.04 201.48 L353.29 201.34 L353.55 201.21 L353.80 201.07 L354.06 200.94 L354.32 200.80 L354.57 200.66 L354.83 200.52 L355.08 200.39 L355.34 200.25 L355.59 200.11 L355.85 199.97 L356.11 199.83 L356.36 199.69 L356.62 199.55 L356.87 199.41 L357.13 199.27 L357.38 199.12 L357.64 198.98 L357.90 198.84 L358.15 198.70 L358.41 198.55 L358.66 198.41 L358.92 198.26 L359.17 198.12 L359.43 197.98 L359.69 197.83 L359.94 197.69 L360.20 197.54 L360.45 197.40 L360.71 197.25 L360.96 197.10 L361.22 196.96 L361.47 196.81 L361.73 196.66 L361.99 196.52 L362.24 196.37 L362.50 196.22 L362.75 196.07 L363.01 195.93 L363.26 195.78 L363.52 195.63 L363.78 195.48 L364.03 195.33 L364.29 195.18 L364.54 195.03 L364.80 194.88 L365.05 194.73 L365.31 194.58 L365.57 194.43 L365.82 194.28 L366.08 194.13 L366.33 193.98 L366.59 193.83 L366.84 193.68 L367.10 193.53 L367.36 193.38 L367.61 193.22 L367.87 193.07 L368.12 192.92 L368.38 192.77 L368.63 192.62 L368.89 192.47 L369.15 192.31 L369.40 192.16 L369.66 192.01 L369.91 191.86 L370.17 191.71 L370.42 191.56 L370.68 191.41 L370.93 191.25 L371.19 191.10 L371.45 190.95 L371.70 190.80 L371.96 190.64 L372.21 190.49 L372.47 190.34 L372.72 190.18 L372.98 190.03 L373.24 189.88 L373.49 189.72 L373.75 189.57 L374.00 189.42 L374.26 189.26 L374.51 189.11 L374.77 188.96 L375.03 188.80 L375.28 188.65 L375.54 188.50 L375.79 188.34 L376.05 188.19 L376.30 188.04 L376.56 187.88 L376.82 187.73 L377.07 187.58 L377.33 187.43 L377.58 187.27 L377.84 187.12 L378.09 186.97 L378.35 186.81 L378.61 186.66 L378.86 186.51 L379.12 186.36 L379.37 186.20 L379.63 186.05 L379.88 185.90 L380.14 185.75 L380.39 185.59 L380.65 185.44 L380.91 185.29 L381.16 185.14 L381.42 184.99 L381.67 184.83 L381.93 184.68 L382.18 184.53 L382.44 184.38 L382.70 184.23 L382.95 184.08 L383.21 183.93 L383.46 183.78 L383.72 183.63 L383.97 183.48 L384.23 183.33 L384.49 183.18 L384.74 183.03 L385.00 182.88 L385.25 182.73 L385.51 182.58 L385.76 182.44 L386.02 182.29 L386.28 182.14 L386.53 181.99 L386.79 181.84 L387.04 181.69 L387.30 181.55 L387.55 181.40 L387.81 181.25 L388.07 181.11 L388.32 180.96 L388.58 180.82 L388.83 180.67 L389.09 180.53 L389.34 180.38 L389.60 180.24 L389.85 180.09 L390.11 179.95 L390.37 179.81 L390.62 179.66 L390.88 179.52 L391.13 179.38 L391.39 179.23 L391.64 179.09 L391.90 178.95 L392.16 178.81 L392.41 178.67 L392.67 178.53 L392.92 178.38 L393.18 178.24 L393.43 178.11 L393.69 177.97 L393.95 177.83 L394.20 177.69 L394.46 177.55 L394.71 177.41 L394.97 177.28 L395.22 177.14 L395.48 177.01 L395.74 176.87 L395.99 176.74 L396.25 176.61 L396.50 176.47 L396.76 176.34 L397.01 176.21 L397.27 176.07 L397.53 175.94 L397.78 175.81 L398.04 175.68 L398.29 175.55 L398.55 175.42 L398.80 175.29 L399.06 175.16 L399.31 175.03 L399.57 174.90 L399.83 174.77 L400.08 174.64 L400.34 174.51 L400.59 174.39 L400.85 174.26 L401.10 174.13 L401.36 174.01 L401.62 173.88 L401.87 173.76 L402.13 173.63 L402.38 173.51 L402.64 173.39 L402.89 173.26 L403.15 173.14" fill="none" stroke="#666666" stroke-width="1.1"/>
<circle cx="250.85" cy="264.71" r="1.2" fill="#0000ff"/>
<circle cx="253.91" cy="261.26" r="1.2" fill="#0000ff"/>
<circle cx="256.98" cy="257.81" r="1.2" fill="#0000ff"/>
<circle cx="260.04" cy="254.36" r="1.2" fill="#0000ff"/>
<circle cx="263.11" cy="250.92" r="1.2" fill="#0000ff"/>
<circle cx="266.17" cy="247.49" r="1.2" fill="#0000ff"/>
<circle cx="269.23" cy="244.05" r="1.2" fill="#0000ff"/>
<circle cx="272.30" cy="240.63" r="1.2" fill="#0000ff"/>
<circle cx="275.36" cy="237.20" r="1.2" fill="#0000ff"/>
<circle cx="278.43" cy="233.78" r="1.2" fill="#0000ff"/>
<circle cx="281.49" cy="230.37" r="1.2" fill="#0000ff"/>
<circle cx="284.55" cy="226.96" r="1.2" fill="#0000ff"/>
<circle cx="287.62" cy="223.55" r="1.2" fill="#0000ff"/>
<circle cx="290.68" cy="220.12" r="1.2" fill="#0000ff"/>
<circle cx="293.75" cy="216.74" r="1.2" fill="#0000ff"/>
<circle cx="296.81" cy="213.49" r="1.2" fill="#0000ff"/>
<circle cx="299.87" cy="210.52" r="1.2" fill="#0000ff"/>
<circle cx="302.94" cy="207.26" r="1.2" fill="#0000ff"/>
<circle cx="306.00" cy="204.10" r="1.2" fill="#0000ff"/>
<circle cx="309.07" cy="201.27" r="1.2" fill="#0000ff"/>
<circle cx="312.13" cy="198.86" r="1.2" fill="#0000ff"/>
<circle cx="315.19" cy="197.43" r="1.2" fill="#0000ff"/>
<circle cx="318.26" cy="196.64" r="1.2" fill="#0000ff"/>
<circle cx="321.32" cy="196.31" r="1.2" fill="#0000ff"/>
<circle cx="324.39" cy="197.27" r="1.2" fill="#0000ff"/>
<circle cx="327.45" cy="199.12" r="1.2" fill="#0000ff"/>
<circle cx="330.51" cy="203.34" r="1.2" fill="#0000ff"/>
<circle cx="333.58" cy="209.40" r="1.2" fill="#0000ff"/>
<circle cx="336.64" cy="209.16" r="1.2" fill="#0000ff"/>
<circle cx="339.71" cy="207.83" r="1.2" fill="#0000ff"/>
<circle cx="342.77" cy="206.52" r="1.2" fill="#0000ff"/>
<circle cx="345.83" cy="205.11" r="1.2" fill="#0000ff"/>
<circle cx="348.90" cy="203.61" r="1.2" fill="#0000ff"/>
<circle cx="351.96" cy="202.04" r="1.2" fill="#0000ff"/>
<circle cx="355.03" cy="200.42" r="1.2" fill="#0000ff"/>
<circle cx="358.09" cy="198.73" r="1.2" fill="#0000ff"/>
<circle cx="361.15" cy="197.00" r="1.2" fill="#0000ff"/>
<circle cx="364.22" cy="195.22" r="1.2" fill="#0000ff"/>
<circle cx="367.28" cy="193.42" r="1.2" fill="#0000ff"/>
<circle cx="370.35" cy="191.60" r="1.2" fill="#0000ff"/>
<circle cx="373.41" cy="189.77" r="1.2" fill="#0000ff"/>
<circle cx="376.47" cy="187.94" r="1.2" fill="#0000ff"/>
<circle cx="379.54" cy="186.10" r="1.2" fill="#0000ff"/>
<circle cx="382.60" cy="184.29" r="1.2" fill="#0000ff"/>
<circle cx="385.67" cy="182.49" r="1.2" fill="#0000ff"/>
<circle cx="388.73" cy="180.73" r="1.2" fill="#0000ff"/>
<circle cx="391.79" cy="179.01" r="1.2" fill="#0000ff"/>
<circle cx="394.86" cy="177.34" r="1.2" fill="#0000ff"/>
<circle cx="397.92" cy="175.74" r="1.2" fill="#0000ff"/>
<circle cx="400.99" cy="174.19" r="1.2" fill="#0000ff"/>
<circle cx="403.15" cy="173.14" r="1.2" fill="#0000ff"/>
<text transform="translate(59.00 28.20) scale(0.89 1.0)" text-anchor="start" font-size="13.6">(a)</text>
<text transform="translate(59.40 189.20) scale(0.89 1.0)" text-anchor="start" font-size="13.6">(b)</text>
<text transform="translate(262.00 188.80) scale(0.89 1.0)" text-anchor="start" font-size="13.6">(c)</text>
<text transform="translate(224.60 158.70) scale(1.022 1.0)" text-anchor="middle" font-size="11.2">Temperature (K)</text>
<text transform="translate(124.80 290.40) scale(1.03 1.0)" text-anchor="middle" font-size="11.2">Temperature (K)</text>
<text transform="translate(326.40 290.40) scale(1.025 1.0)" text-anchor="middle" font-size="11.2">Temperature (K)</text>
<text transform="translate(12.50 122.50) rotate(-90)" text-anchor="start" font-size="11.2"><tspan letter-spacing="0.155">Resistivity</tspan><tspan dx="-1.3"> ρ</tspan><tspan dx="-0.4"> (</tspan><tspan font-family="Liberation Serif, serif" dx="-0.2">μΩ</tspan><tspan dx="-0.3"> ·</tspan><tspan dx="-1.3"> cm)</tspan></text>
<text transform="translate(25.50 245.00) rotate(-90)" text-anchor="start" font-size="11.2">ρ<tspan dx="0.7"> (</tspan><tspan font-family="Liberation Serif, serif">μΩ</tspan><tspan dx="-0.8"> ·</tspan><tspan dx="-0.7"> cm)</tspan></text>
<text transform="translate(222.00 245.90) rotate(-90)" text-anchor="start" font-size="11.2">ρ<tspan dx="0.7"> (</tspan><tspan font-family="Liberation Serif, serif">μΩ</tspan><tspan dx="-0.8"> ·</tspan><tspan dx="-0.7"> cm)</tspan></text>
<text x="384.6" y="64.8" text-anchor="end" font-size="11.2">URu<tspan font-size="8.7" dy="5.9" dx="-0.4">2</tspan><tspan dy="-5.9" dx="-0.5">Si</tspan><tspan font-size="8.7" dy="5.9" dx="-0.2">2</tspan></text>
<text x="386.0" y="81.8" text-anchor="end" font-size="11.2">RRR = 267</text>
<text x="386.6" y="103.5" text-anchor="end" font-size="11.2">ρ<tspan font-size="8.7" dy="5.4" dx="-0.3">0</tspan><tspan dy="-5.4"> = 3.53 </tspan><tspan font-family="Liberation Serif, serif" dx="-1.0">μΩ</tspan>·cm</text>
<text x="386.6" y="117.5" text-anchor="end" font-size="11.2">ρ<tspan font-size="8.7" dy="5.4" dx="-0.3" letter-spacing="-0.2">300</tspan><tspan dy="-5.4"> = 940 </tspan><tspan font-family="Liberation Serif, serif" dx="-1.0">μΩ</tspan>·cm</text>
</svg>
</body></html>
